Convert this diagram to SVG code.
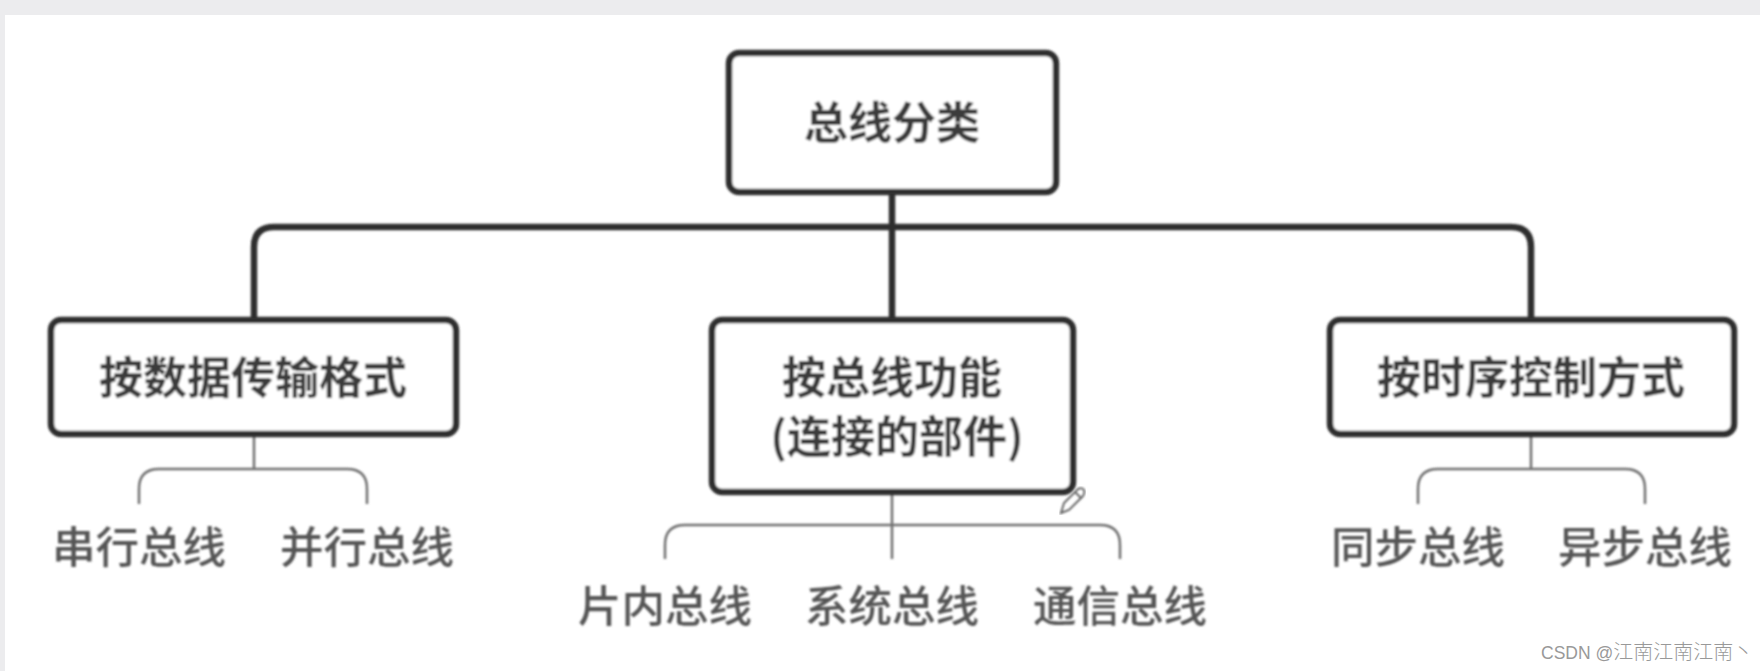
<svg xmlns="http://www.w3.org/2000/svg" width="1760" height="671" viewBox="0 0 1760 671">
<style>
.box{fill:#fff;stroke:#2e2e2e;stroke-width:6.5}
.t{font-family:"Noto Sans CJK SC","Noto Sans",sans-serif;font-size:44px;font-weight:700;fill:#3a3a3a;text-anchor:middle}
.s{font-family:"Noto Sans CJK SC","Noto Sans",sans-serif;font-size:43.5px;font-weight:500;fill:#555;text-anchor:middle}
.main{fill:none;stroke:#2e2e2e;stroke-width:6.5}
.thin{fill:none;stroke:#707070;stroke-width:2.5}
</style>
<defs><filter id="b" x="-5%" y="-5%" width="110%" height="110%"><feGaussianBlur stdDeviation="0.8"/></filter></defs>
<rect width="1760" height="671" fill="#fff"/>
<path d="M0 0H1760V15H5V671H0Z" fill="#ececee"/>
<g id="connectors" filter="url(#b)">
<path class="main" d="M892 192V320M254 320V247Q254 227 274 227H1511Q1531 227 1531 247V320"/>
<path class="thin" d="M254 434V469M139 504V489Q139 469 159 469H347Q367 469 367 489V504"/>
<path class="thin" d="M892 492V559M665 559V545Q665 525 685 525H1100Q1120 525 1120 545V559"/>
<path class="thin" d="M1531 434V469M1418 504V489Q1418 469 1438 469H1625Q1645 469 1645 489V504"/>
</g>
<g id="root" filter="url(#b)"><rect class="box" x="729" y="53" width="327" height="139" rx="10"/><text class="t" x="892" y="139">总线分类</text></g>
<g id="n-format" filter="url(#b)"><rect class="box" x="51" y="320" width="405" height="114" rx="10"/><text class="t" x="253" y="394">按数据传输格式</text></g>
<g id="n-function" filter="url(#b)"><rect class="box" x="712" y="320" width="361" height="172" rx="10"/><text class="t" x="892" y="394">按总线功能</text><text class="t" x="897" y="453">(连接的部件)</text></g>
<g id="n-timing" filter="url(#b)"><rect class="box" x="1330" y="320" width="404" height="114" rx="10"/><text class="t" x="1531" y="394">按时序控制方式</text></g>
<g id="leaves" filter="url(#b)">
<g id="l1"><text class="s" x="139" y="563">串行总线</text></g>
<g id="l2"><text class="s" x="367" y="563">并行总线</text></g>
<g id="l3"><text class="s" x="665" y="622">片内总线</text></g>
<g id="l4"><text class="s" x="892" y="622">系统总线</text></g>
<g id="l5"><text class="s" x="1120" y="622">通信总线</text></g>
<g id="l6"><text class="s" x="1418" y="563">同步总线</text></g>
<g id="l7"><text class="s" x="1645" y="563">异步总线</text></g>
</g>
<g id="pencil" fill="none" stroke="#666" stroke-width="2" filter="url(#b)"><path d="M1061 513L1064 503L1078 489Q1082 487 1084 490Q1085 493 1083 496L1069 510Z"/><path d="M1075 492L1081 498"/></g>
<text x="1541" y="659" font-family="'Liberation Sans','Noto Sans CJK SC',sans-serif" font-size="17.5" fill="#999">CSDN @<tspan font-family="'Noto Sans CJK SC',sans-serif" font-size="20" font-weight="300">江南江南江南丶</tspan></text>
</svg>
